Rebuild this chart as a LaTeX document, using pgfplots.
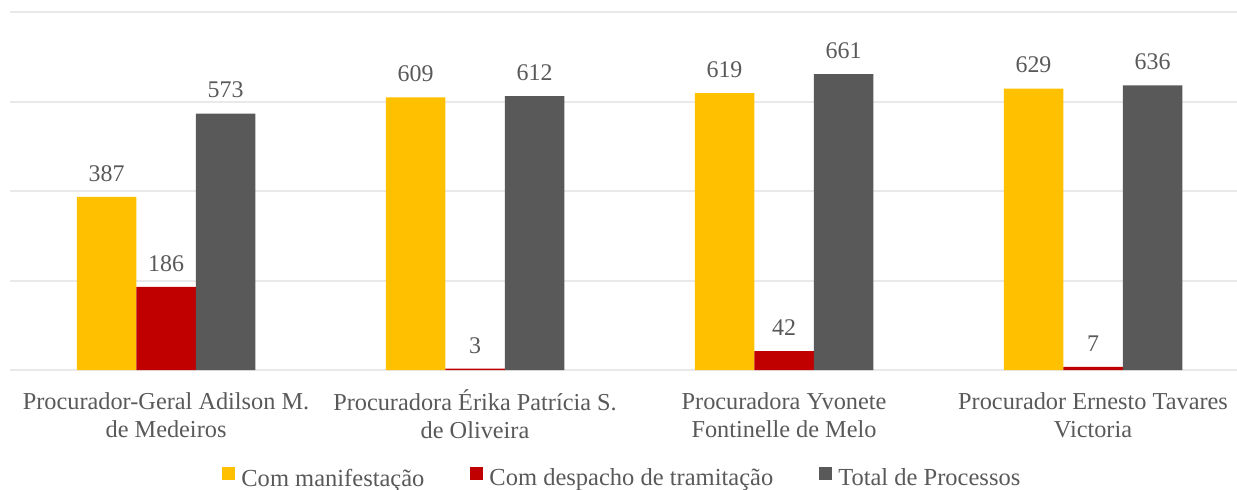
\documentclass[border=0pt]{standalone}
\usepackage{fontspec}
\setmainfont{Liberation Serif}
\usepackage{pgfplots}
\pgfplotsset{compat=1.18}
\definecolor{cYel}{HTML}{FFC000}
\definecolor{cRed}{HTML}{C00000}
\definecolor{cGry}{HTML}{595959}
\definecolor{txt}{HTML}{595959}
\definecolor{gridc}{HTML}{E9E9E9}

\begin{document}
\begin{tikzpicture}
\begin{axis}[
  at={(0,0)}, anchor=south west,
  scale only axis,
  width=613.5bp, height=179bp,
  xmin=-0.505, xmax=3.466,
  ymin=0, ymax=800,
  axis line style={draw=none},
  ytick={0,200,400,600,800},
  yticklabels={},
  ymajorgrids, xmajorgrids=false,
  grid style={draw=gridc, line width=1bp},
  major tick length=0pt,
  /pgf/number format/assume math mode=true,
  xtick={0,1,2,3},
  xticklabels={{\strut Procurador-Geral Adilson M.\\de Medeiros},
               {\strut Procuradora Érika Patrícia S.\\de Oliveira},
               {\strut Procuradora Yvonete\\Fontinelle de Melo},
               {\strut Procurador Ernesto Tavares\\Victoria}},
  xticklabel style={align=center, anchor=north, inner sep=0pt, yshift=-9.7bp,
    text=txt, font=\fontsize{12.2}{14}\selectfont},
  clip=false,
  ybar=0pt,
  bar width=0.1926,
  nodes near coords,
  every node near coord/.append style={text=txt, inner sep=0pt, anchor=south,
    yshift=7.5bp, font=\fontsize{12}{14}\selectfont},
  legend columns=3,
  legend style={at={(rel axis cs:0,0)}, anchor=west, xshift=106bp, yshift=-54bp,
    draw=none, fill=none, inner sep=0pt,
    nodes={inner sep=0pt, text=txt, font=\fontsize{12.3}{14}\selectfont},
    /tikz/every odd column/.style={column sep=3bp},
    /tikz/every even column/.style={column sep=23bp}},
  legend image code/.code={\fill[#1] (0bp,-0.5bp) rectangle (6.5bp,6bp);},
]
\addplot[fill=cYel, draw=none, bar shift=-0.1926] coordinates {(0,387) (1,609) (2,619) (3,629)};
\addplot[fill=cRed, draw=none, bar shift=0] coordinates {(0,186) (1,3) (2,42) (3,7)};
\addplot[fill=cGry, draw=none, bar shift=0.1926] coordinates {(0,573) (1,612) (2,661) (3,636)};
\legend{Com manifestação, Com despacho de tramitação, Total de Processos}
\end{axis}
\pgfresetboundingbox
\path (-5bp,-60bp) rectangle (613.5bp,185bp);
\end{tikzpicture}
\end{document}
